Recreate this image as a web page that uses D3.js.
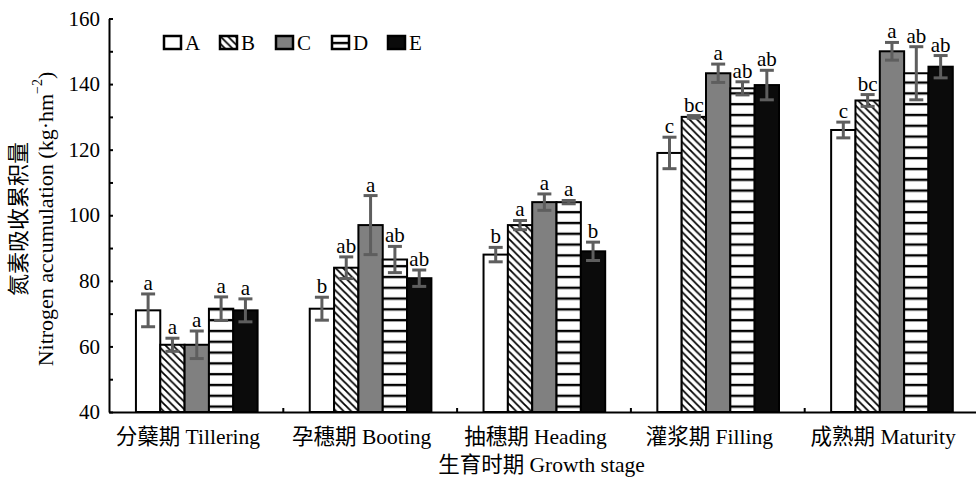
<!DOCTYPE html>
<html>
<head>
<meta charset="utf-8">
<script src="https://cdn.jsdelivr.net/npm/d3@7"></script>
<style>
  body { margin: 0; background: #fff; }
  svg text { font-family: "Liberation Serif", "Noto Sans CJK SC", serif; fill: #000; }
</style>
</head>
<body>
<svg id="chart" width="976" height="478"></svg>
<script>
// stages along the x axis
const stages = ["分蘖期 Tillering", "孕穗期 Booting", "抽穗期 Heading", "灌浆期 Filling", "成熟期 Maturity"];
const treatments = ["A", "B", "C", "D", "E"];

// means per treatment, one value per stage
const valA = [71, 71.5, 88, 119, 126];
const valB = [60.5, 84, 97, 130, 135];
const valC = [60.5, 97, 104, 143.3, 150];
const valD = [71.5, 86.5, 104, 138.7, 143.3];
const valE = [71, 80.8, 89, 139.7, 145.3];

// error bar half-lengths
const errA = [5, 3.5, 2.2, 4.8, 2.4];
const errB = [2, 3.3, 1.4, 0.4, 1.8];
const errC = [4.2, 9, 2.5, 2.8, 2.7];
const errD = [3.6, 4, 0.5, 2, 8.1];
const errE = [3.5, 2.5, 2.8, 4.5, 3.4];

// significance letters
const sigA = ["a", "b", "b", "c", "c"];
const sigB = ["a", "ab", "a", "bc", "bc"];
const sigC = ["a", "a", "a", "a", "a"];
const sigD = ["a", "ab", "a", "ab", "ab"];
const sigE = ["a", "ab", "b", "ab", "ab"];

const yTicks = [40, 50, 60, 70, 80, 90, 100, 110, 120, 130, 140, 150, 160];

const vals = [valA, valB, valC, valD, valE];
const errs = [errA, errB, errC, errD, errE];
const sigs = [sigA, sigB, sigC, sigD, sigE];

const rows = [];
stages.forEach((s, i) => {
  treatments.forEach((t, j) => {
    rows.push({ stage: s, trt: t, v: vals[j][i], e: errs[j][i], sig: sigs[j][i] });
  });
});

const plotL = 109, plotR = 978, plotT = 18.5, plotB = 412;
const svg = d3.select("#chart");

const x0 = d3.scaleBand().domain(stages).range([plotL, plotR]).padding(0);
const bw = x0.bandwidth();
const x1 = d3.scaleBand().domain(treatments).range([bw * 0.155, bw * 0.855]).padding(0);
const y = d3.scaleLinear().domain([40, 160]).range([plotB, plotT]);

// fill patterns
const defs = svg.append("defs");
const diag = defs.append("pattern").attr("id", "diag")
  .attr("patternUnits", "userSpaceOnUse").attr("width", 7.5).attr("height", 7.5);
diag.append("rect").attr("width", 7.5).attr("height", 7.5).attr("fill", "#fff");
diag.append("path").attr("d", "M0,0 L7.5,7.5 M-1,6.5 L1,8.5 M6.5,-1 L8.5,1")
  .attr("stroke", "#000").attr("stroke-width", 1.8);

const hor = defs.append("pattern").attr("id", "hor")
  .attr("patternUnits", "userSpaceOnUse").attr("width", 10).attr("height", 10.8);
hor.append("rect").attr("width", 10).attr("height", 10.8).attr("fill", "#fff");
hor.append("line").attr("x1", 0).attr("x2", 10).attr("y1", 7).attr("y2", 7)
  .attr("stroke", "#000").attr("stroke-width", 2.4);

const fills = { A: "#fff", B: "url(#diag)", C: "#808080", D: "url(#hor)", E: "#0b0b0b" };

// bars
svg.append("g").selectAll("rect").data(rows).join("rect")
  .attr("x", d => x0(d.stage) + x1(d.trt))
  .attr("y", d => y(d.v))
  .attr("width", x1.bandwidth())
  .attr("height", d => y(40) - y(d.v))
  .attr("fill", d => fills[d.trt])
  .attr("stroke", "#000")
  .attr("stroke-width", 2);

// error bars
const eb = svg.append("g").attr("stroke", "#5e5e5e").attr("stroke-width", 3);
rows.forEach(d => {
  const cx = x0(d.stage) + x1(d.trt) + x1.bandwidth() / 2;
  const y1 = y(d.v + d.e), y2 = y(d.v - d.e);
  eb.append("line").attr("x1", cx).attr("x2", cx).attr("y1", y1).attr("y2", y2);
  eb.append("line").attr("x1", cx - 7).attr("x2", cx + 7).attr("y1", y1).attr("y2", y1);
  eb.append("line").attr("x1", cx - 7).attr("x2", cx + 7).attr("y1", y2).attr("y2", y2);
});

// significance letters
svg.append("g").selectAll("text").data(rows).join("text")
  .attr("x", d => x0(d.stage) + x1(d.trt) + x1.bandwidth() / 2)
  .attr("y", d => y(d.v + d.e) - 4)
  .attr("text-anchor", "middle")
  .attr("font-size", 21)
  .text(d => d.sig);

// y axis, ticks point inward
const yAxis = svg.append("g").attr("transform", `translate(${plotL},0)`)
  .call(d3.axisLeft(y).tickValues(yTicks).tickSizeInner(-4).tickSizeOuter(0).tickPadding(9)
    .tickFormat(d => d % 20 === 0 ? d : ""));
yAxis.selectAll("text").attr("font-size", 21).style("font-family", "Liberation Serif").attr("fill", "#000");
yAxis.selectAll("line, path").attr("stroke", "#000").attr("stroke-width", 2);

// x axis: line with stage divider ticks
const xb = d3.scaleLinear().domain([0, 5]).range([plotL, plotR]);
const xAxis = svg.append("g").attr("transform", `translate(0,${plotB})`)
  .call(d3.axisBottom(xb).tickValues([1, 2, 3, 4]).tickSizeInner(-4).tickSizeOuter(0).tickFormat(""));
xAxis.selectAll("line, path").attr("stroke", "#000").attr("stroke-width", 2);

// stage labels
svg.append("g").selectAll("text").data(stages).join("text")
  .attr("x", d => x0(d) + bw / 2 - 8)
  .attr("y", 444)
  .attr("text-anchor", "middle")
  .attr("font-size", 21.5)
  .text(d => d);

svg.append("text").attr("x", (plotL + plotR) / 2 - 2).attr("y", 472)
  .attr("text-anchor", "middle").attr("font-size", 21.5)
  .text("生育时期 Growth stage");

// y title, two lines
svg.append("text").attr("transform", "translate(18,219) rotate(-90)")
  .attr("text-anchor", "middle").attr("dominant-baseline", "central")
  .attr("font-size", 22).text("氮素吸收累积量");
const yt = svg.append("text").attr("transform", "translate(45,219) rotate(-90)")
  .attr("text-anchor", "middle").attr("dominant-baseline", "central")
  .attr("font-size", 22);
yt.append("tspan").text("Nitrogen accumulation (kg·hm");
yt.append("tspan").attr("dy", -8).attr("font-size", 14).text("−2");
yt.append("tspan").attr("dy", 8).text(")");

// legend
const lg = svg.append("g").attr("transform", "translate(164,36)")
  .selectAll("g").data(treatments).join("g")
  .attr("transform", (d, i) => `translate(${i * 56},0)`);
lg.append("rect").attr("width", 17).attr("height", 13)
  .attr("fill", d => fills[d]).attr("stroke", "#000").attr("stroke-width", 2.5);
lg.append("text").attr("x", 21).attr("y", 14).attr("font-size", 21).text(d => d);
</script>
</body>
</html>
